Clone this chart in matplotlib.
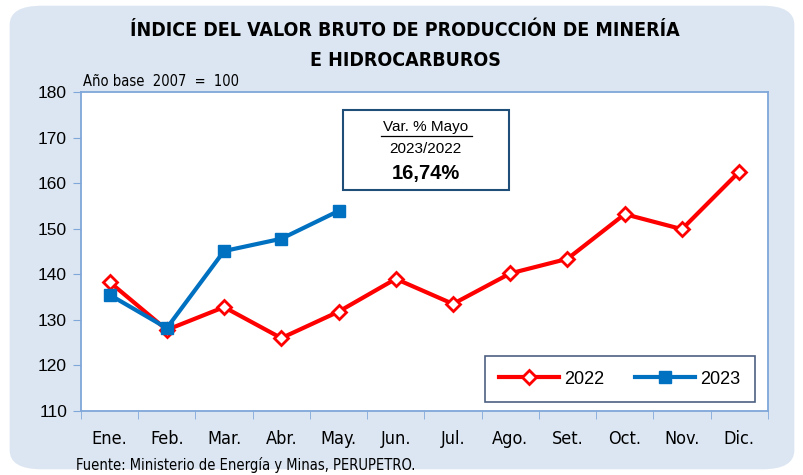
import numpy as np
import matplotlib.pyplot as plt
from matplotlib.patches import FancyBboxPatch, Rectangle

# data
meses = ["Ene.", "Feb.", "Mar.", "Abr.", "May.", "Jun.", "Jul.",
         "Ago.", "Set.", "Oct.", "Nov.", "Dic."]
valores_2022 = [138.3, 127.8, 132.8, 126.0, 131.8, 139.0, 133.5,
                140.2, 143.4, 153.2, 149.9, 162.5]
valores_2023 = [135.5, 128.2, 145.1, 147.8, 153.9]
yticks = [110, 120, 130, 140, 150, 160, 170, 180]

arial = ['Liberation Sans', 'DejaVu Sans']
cond = dict(fontfamily='DejaVu Sans', fontstretch='condensed')

fig = plt.figure(figsize=(8.04, 4.75), dpi=100)

# rounded light blue background
bg = FancyBboxPatch((0.012, 0.012), 0.976, 0.976,
                    boxstyle="round,pad=0,rounding_size=0.04",
                    transform=fig.transFigure, facecolor='#dce6f2',
                    edgecolor='none', zorder=-5)
fig.patches.append(bg)

ax = fig.add_axes([0.1007, 0.1347, 0.8543, 0.6716])
ax.set_zorder(2)
ax.set_facecolor('white')

x = np.arange(len(meses))
ax.plot(x, valores_2022, color='#ff0000', lw=3, marker='D', ms=7,
        mfc='white', mec='#ff0000', mew=2, label='2022', zorder=3)
ax.plot(x[:len(valores_2023)], valores_2023, color='#0070c0', lw=3,
        marker='s', ms=9, mfc='#0070c0', mec='#0070c0', label='2023', zorder=4)

ax.set_xlim(-0.5, 11.5)
ax.set_ylim(110, 180)
ax.set_yticks(yticks)
ax.set_yticklabels([str(v) for v in yticks], fontfamily=arial, fontsize=12.5)
ax.tick_params(axis='y', direction='out', length=6, color='#7fa7d9', pad=4)

ax.set_xticks(x)
ax.set_xticklabels(meses, fontsize=13, **cond)
ax.tick_params(axis='x', length=0, pad=14)
ax.set_xticks(np.arange(-0.5, 12, 1), minor=True)
ax.tick_params(axis='x', which='minor', direction='out', length=6, color='#7fa7d9')

for s in ax.spines.values():
    s.set_color('#7fa7d9')
    s.set_linewidth(1.3)

leg = ax.legend(loc='lower right', bbox_to_anchor=(0.981, 0.028), ncol=2,
                frameon=True, fancybox=False, edgecolor='#1f3864',
                prop={'family': arial, 'size': 13}, handlelength=3.3,
                columnspacing=1.7, borderpad=0.8, handletextpad=0.3,
                borderaxespad=0)
leg.get_frame().set_linewidth(1.2)

# variation box
box = Rectangle((0.381, 0.693), 0.2416, 0.2508, transform=ax.transAxes,
                facecolor='white', edgecolor='#1f4e79', lw=1.5, zorder=5)
ax.add_patch(box)
ax.text(0.5018, 0.889, "Var. % Mayo", transform=ax.transAxes, ha='center',
        va='center', fontfamily=arial, fontsize=11, zorder=6)
ax.plot([0.4367, 0.5691], [0.862, 0.862], transform=ax.transAxes,
        color='black', lw=0.9, zorder=6)
ax.text(0.5018, 0.821, "2023/2022", transform=ax.transAxes, ha='center',
        va='center', fontfamily=arial, fontsize=11, zorder=6)
ax.text(0.5018, 0.743, "16,74%", transform=ax.transAxes, ha='center',
        va='center', fontfamily=arial, fontsize=14.5, fontweight='bold', zorder=6)

fig.text(0.504, 0.935, "ÍNDICE DEL VALOR BRUTO DE PRODUCCIÓN DE MINERÍA",
         ha='center', va='center', fontsize=14, fontweight='bold', **cond)
fig.text(0.504, 0.872, "E HIDROCARBUROS", ha='center', va='center',
         fontsize=14, fontweight='bold', **cond)
fig.text(0.103, 0.829, "Año base  2007  =  100", ha='left', va='center',
         fontsize=10.5, **cond)
fig.text(0.095, 0.022, "Fuente: Ministerio de Energía y Minas, PERUPETRO.",
         ha='left', va='center', fontsize=10.5, **cond)

fig.savefig("out.png", dpi=100)
